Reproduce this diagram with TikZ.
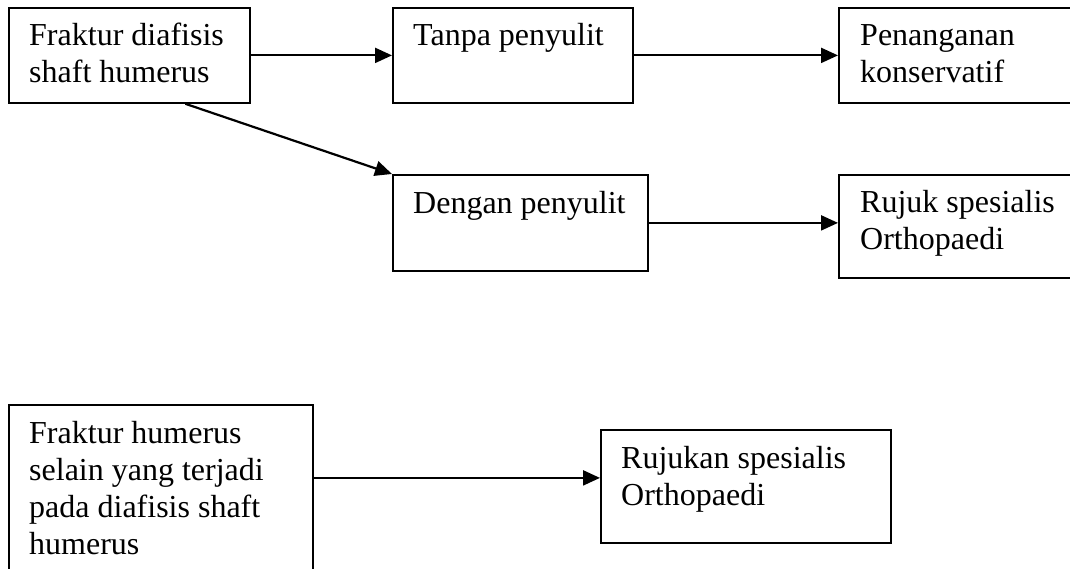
\documentclass[tikz,border=0pt]{standalone}
\usepackage{fontspec}
\setmainfont{Liberation Serif}
\usetikzlibrary{arrows.meta}
\tikzset{
  bx/.style={draw, line width=1.8pt, rectangle, anchor=north west, inner sep=0pt},
  txt/.style={anchor=base west, inner sep=0pt},
  arr/.style={line width=2.2pt, -{Triangle[length=17pt,width=15pt]}}
}
\newcommand{\bt}[1]{\parbox[t]{400pt}{\fontsize{32}{37}\selectfont #1}}
\begin{document}
\begin{tikzpicture}[x=1pt,y=-1pt]
\useasboundingbox (0,0) rectangle (1070,569);
\clip (0,0) rectangle (1070,569);
% boxes
\node[bx, minimum width=241pt, minimum height=95pt] (b1) at (8,7) {};
\node[bx, minimum width=240pt, minimum height=95pt] (b2) at (392,7) {};
\node[bx, minimum width=260pt, minimum height=95pt] (b3) at (838,7) {};
\node[bx, minimum width=255pt, minimum height=96pt] (b4) at (392,174) {};
\node[bx, minimum width=260pt, minimum height=103pt] (b5) at (838,174) {};
\node[bx, minimum width=304pt, minimum height=200pt] (b6) at (8,404) {};
\node[bx, minimum width=290pt, minimum height=113pt] (b7) at (600,429) {};
% texts
\node[txt] (t1) at ([shift={(21pt,-39pt)}]b1.north west) {\bt{Fraktur diafisis\\shaft humerus}};
\node[txt] (t2) at ([shift={(21pt,-39pt)}]b2.north west) {\bt{Tanpa penyulit}};
\node[txt] (t3) at ([shift={(22pt,-39pt)}]b3.north west) {\bt{Penanganan\\konservatif}};
\node[txt] (t4) at ([shift={(21pt,-40pt)}]b4.north west) {\bt{Dengan penyulit}};
\node[txt] (t5) at ([shift={(22pt,-39pt)}]b5.north west) {\bt{Rujuk spesialis\\Orthopaedi}};
\node[txt] (t6) at ([shift={(21pt,-39pt)}]b6.north west) {\bt{Fraktur humerus\\selain yang terjadi\\pada diafisis shaft\\humerus}};
\node[txt] (t7) at ([shift={(21pt,-39pt)}]b7.north west) {\bt{Rujukan spesialis\\Orthopaedi}};
% connectors
\draw[arr] (b1.east) -- (b2.west);
\draw[arr] (b2.east) -- (b3.west);
\draw[arr] ([xshift=56pt]b1.south) -- (b4.north west);
\draw[arr] (b4.east) -- (b4.east -| b5.west);
\draw[arr] ([yshift=8.5pt]b7.west -| b6.east) -- ([yshift=8.5pt]b7.west);
\end{tikzpicture}
\end{document}
